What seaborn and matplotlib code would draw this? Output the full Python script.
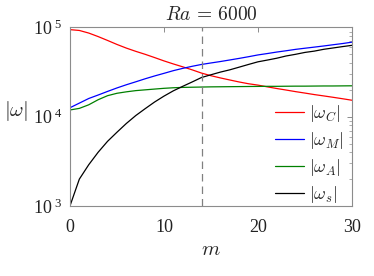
import numpy as np
import pandas as pd
import matplotlib
matplotlib.use("Agg")
import matplotlib.pyplot as plt
import matplotlib.ticker as mticker
import seaborn as sns

# values (Ra = 6000)
m = list(range(31))
omega_C = [9.45e4, 9.25e4, 8.65e4, 7.9e4, 7.15e4, 6.45e4, 5.87e4, 5.4e4, 5.0e4, 4.6e4,
           4.22e4, 3.9e4, 3.62e4, 3.35e4, 3.08e4, 2.88e4, 2.72e4, 2.58e4, 2.45e4, 2.34e4,
           2.26e4, 2.16e4, 2.07e4, 1.99e4, 1.91e4, 1.84e4, 1.77e4, 1.71e4, 1.65e4, 1.59e4,
           1.53e4]
omega_M = [1.26e4, 1.42e4, 1.6e4, 1.75e4, 1.92e4, 2.1e4, 2.28e4, 2.46e4, 2.66e4, 2.86e4,
           3.06e4, 3.28e4, 3.48e4, 3.67e4, 3.85e4, 4.0e4, 4.15e4, 4.32e4, 4.5e4, 4.7e4,
           4.92e4, 5.1e4, 5.3e4, 5.48e4, 5.68e4, 5.85e4, 6.02e4, 6.2e4, 6.4e4, 6.6e4,
           6.84e4]
omega_A = [1.19e4, 1.24e4, 1.36e4, 1.55e4, 1.72e4, 1.83e4, 1.9e4, 1.96e4, 2.0e4, 2.04e4,
           2.08e4, 2.11e4, 2.13e4, 2.14e4, 2.15e4, 2.16e4, 2.165e4, 2.17e4, 2.175e4, 2.18e4,
           2.185e4, 2.19e4, 2.19e4, 2.195e4, 2.2e4, 2.2e4, 2.205e4, 2.21e4, 2.21e4, 2.215e4,
           2.22e4]
omega_s = [1.0e3, 2.0e3, 2.9e3, 4.0e3, 5.3e3, 6.7e3, 8.4e3, 1.03e4, 1.23e4, 1.46e4,
           1.7e4, 1.95e4, 2.19e4, 2.45e4, 2.75e4, 2.95e4, 3.16e4, 3.35e4, 3.59e4, 3.85e4,
           4.12e4, 4.31e4, 4.52e4, 4.79e4, 5.0e4, 5.25e4, 5.43e4, 5.69e4, 5.89e4, 6.1e4,
           6.3e4]
m_marker = 14

labels = [r'$|\omega_C|$', r'$|\omega_M|$', r'$|\omega_A|$', r'$|\omega_s|$']
colors = ['#ff0000', '#0000ff', '#008000', '#000000']

df = pd.DataFrame({
    'm': m * 4,
    'omega': omega_C + omega_M + omega_A + omega_s,
    'series': [lab for lab in labels for _ in m],
})

sns.set_style("white")
plt.rcParams['mathtext.fontset'] = 'cm'
plt.rcParams['font.family'] = ['Liberation Serif', 'DejaVu Serif']

fig = plt.figure(figsize=(3.74, 2.76), dpi=100)
ax = fig.add_axes([0.187, 0.2536, 0.754, 0.647])

sns.lineplot(data=df, x='m', y='omega', hue='series', palette=colors,
             hue_order=labels, ax=ax, linewidth=0.9, legend=True)
ax.axvline(m_marker, color='#808080', linestyle=(0, (6, 4)), linewidth=0.9)

ax.set_yscale('log')
ax.set_xlim(0, 30)
ax.set_ylim(1e3, 1e5)
ax.set_xticks([0, 10, 20, 30])
ax.set_yticks([1e3, 1e4, 1e5])
ax.xaxis.set_major_formatter(mticker.FuncFormatter(lambda v, p: '%d' % v))
ax.yaxis.set_major_formatter(mticker.FuncFormatter(
    lambda v, p: r'$\mathregular{10^{\ %d}}$' % round(np.log10(v))))
ax.yaxis.set_minor_locator(mticker.LogLocator(base=10, subs=np.arange(2, 10)))
ax.yaxis.set_minor_formatter(mticker.NullFormatter())

for sp in ax.spines.values():
    sp.set_color('#8c8c8c')
    sp.set_linewidth(0.8)
ax.tick_params(which='both', direction='in', top=True, right=True,
               color='#8c8c8c', labelsize=13, labelcolor='#222222')
ax.tick_params(axis='x', pad=9)
ax.tick_params(axis='y', pad=5)
ax.tick_params(which='major', length=3.5, width=0.7)
ax.tick_params(which='minor', length=2, width=0.5)

ax.set_xlabel(r'$m$', fontsize=15, labelpad=4)
ax.set_ylabel(r'$|\omega|$', fontsize=15, rotation=0, va='center', ha='center')
ax.yaxis.set_label_coords(-0.19, 0.53)
ax.set_title(r'$Ra\, =\, 6000$', fontsize=14, pad=5)

leg = ax.legend(loc='lower right', bbox_to_anchor=(0.975, 0.0), frameon=False,
                fontsize=13, handlelength=1.6, handletextpad=0.3, labelspacing=0.33,
                borderaxespad=0.0, borderpad=0.05)
for h in leg.get_lines():
    h.set_linewidth(0.9)

fig.savefig('out.png', dpi=100)
